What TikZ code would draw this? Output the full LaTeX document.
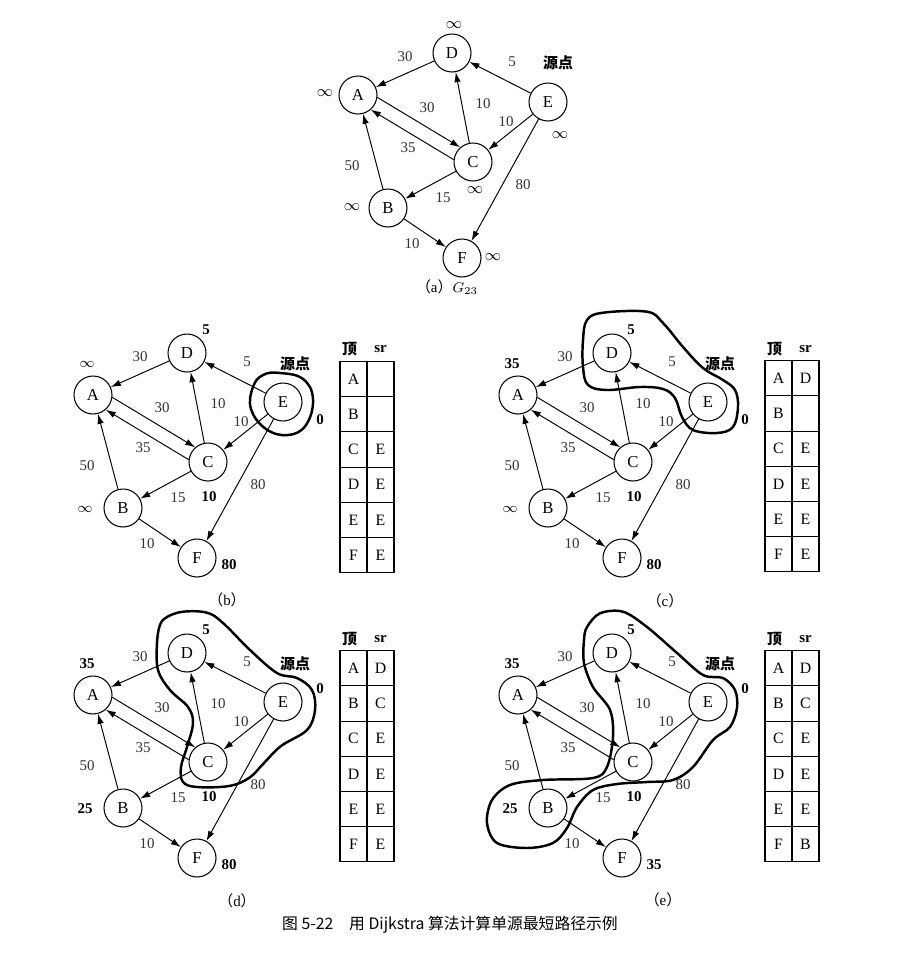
\documentclass[tikz,border=0pt]{standalone}
\usepackage{fontspec}
\setmainfont{Liberation Serif}
\newfontfamily\cjk{Noto Sans CJK SC}
\usetikzlibrary{arrows.meta}

\tikzset{
  vtx/.style={circle, draw, line width=0.6pt, minimum size=0.76cm, inner sep=0pt,
    font=\fontsize{9.5}{11}\selectfont},
  arr/.style={-{Latex[length=2mm,width=1.3mm]}, line width=0.55pt},
  wlab/.style={inner sep=1pt, text=black!80, font=\fontsize{8.5}{10}\selectfont},
  dlab/.style={inner sep=1pt, font=\fontsize{8.5}{10}\selectfont\bfseries},
  ilab/.style={inner sep=1pt, font=\fontsize{9}{10}\selectfont},
  src/.style={inner sep=1pt, font=\fontsize{8.5}{10}\selectfont\cjk\bfseries},
  setline/.style={line width=1.4pt, line join=round},
  tline/.style={line width=0.6pt},
  cell/.style={inner sep=0pt, font=\fontsize{9}{10}\selectfont},
  thead/.style={inner sep=0pt, font=\fontsize{8.5}{10}\selectfont\bfseries},
  capt/.style={inner sep=1pt, font=\fontsize{8.5}{10}\selectfont},
  mcap/.style={inner sep=1pt, font=\fontsize{9}{11}\selectfont\cjk}
}

% the graph G23 with its weights
\newcommand\dijgraph{%
  \node[vtx] (D) at (452,53) {D};
  \node[vtx] (A) at (358,95) {A};
  \node[vtx] (E) at (548,102) {E};
  \node[vtx] (C) at (473,162) {C};
  \node[vtx] (B) at (388,208) {B};
  \node[vtx] (F) at (462,258) {F};
  \draw[arr] (D) -- (A);
  \draw[arr] (E) -- (D);
  \draw[arr] (A.-7) -- (C.131);
  \draw[arr] (C.173) -- (A.-49);
  \draw[arr] (C) -- (D);
  \draw[arr] (E) -- (C);
  \draw[arr] (E) -- (F);
  \draw[arr] (B) -- (A);
  \draw[arr] (C) -- (B);
  \draw[arr] (B) -- (F);
  \node[wlab] (wDA) at (405,57) {30};
  \node[wlab] (wED) at (512,62) {5};
  \node[wlab] (wAC) at (427,108) {30};
  \node[wlab] (wCD) at (483,104) {10};
  \node[wlab] (wEC) at (506,122) {10};
  \node[wlab] (wCA) at (408,148) {35};
  \node[wlab] (wBA) at (352,166) {50};
  \node[wlab] (wEF) at (523,185) {80};
  \node[wlab] (wCB) at (443,198) {15};
  \node[wlab] (wBF) at (412,244) {10};
}

% distances: D, A, E, C, B, F, y of the E label
\newcommand\dists[7]{%
  \node[dlab] (dD) at (471,30) {#1};
  \node[dlab] (dA) at (352,64) {#2};
  \node[dlab] (dE) at (585,#7) {#3};
  \node[dlab] (dC) at (474,197) {#4};
  \node[dlab] (dB) at (350,209) {#5};
  \node[dlab] (dF) at (494,265) {#6};
  \node[src] (src) at (560,64) {源点};
}

% table: top y, list vertex/sr
\newcommand\srtable[2]{%
  \node[thead] (h1) at (614.5,{#1-12}) {\cjk\bfseries 顶};
  \node[thead] (h2) at (645.5,{#1-12}) {sr};
  \draw[tline] (605,#1) rectangle (659,{#1+211});
  \draw[tline] (632,#1) -- (632,{#1+211});
  \foreach \k in {1,...,5}
    \draw[tline] (605,{#1+35.2*\k}) -- (659,{#1+35.2*\k});
  \foreach \v/\s [count=\i] in {#2} {
    \node[cell] (v\v) at (618.5,{#1+35.2*(\i-0.5)}) {\v};
    \node[cell] (s\v) at (645.5,{#1+35.2*(\i-0.5)}) {\s};
  }
}

\begin{document}
\begin{tikzpicture}[x=0.02cm, y=-0.02cm]
  \useasboundingbox (0,0) rectangle (901,970);

  % (a)
  \begin{scope}[name prefix=a-]
    \dijgraph
    \node[ilab] (dD) at (454,25) {$\infty$};
    \node[ilab] (dA) at (325,93) {$\infty$};
    \node[ilab] (dE) at (560,135) {$\infty$};
    \node[ilab] (dC) at (475,190) {$\infty$};
    \node[ilab] (dB) at (352,207) {$\infty$};
    \node[ilab] (dF) at (493,257) {$\infty$};
    \node[src] (src) at (558,63) {源点};
    \node[capt] (cap) at (447,287) {{\cjk （}a{\cjk ）}$G_{23}$};
  \end{scope}

  % (b)
  \begin{scope}[shift={(-265,300)}, name prefix=b-]
    \dijgraph
    \dists{5}{$\infty$}{0}{10}{$\infty$}{80}{120}
    \draw[setline] plot[smooth cycle, tension=0.7] coordinates {
      (545,73) (568,79) (578,99) (571,125) (553,135) (531,129) (516,109) (518,87) (528,75)};
    \srtable{61.5}{A/{},B/{},C/E,D/E,E/E,F/E}
  \end{scope}
  \node[capt] (capb) at (227,600) {{\cjk （}b{\cjk ）}};

  % (c)
  \begin{scope}[shift={(160,300)}, name prefix=c-]
    \dijgraph
    \dists{5}{35}{0}{10}{$\infty$}{80}{120}
    \draw[setline] plot[smooth cycle, tension=0.6] coordinates {
      (427,20) (443,12.7) (487,11.7) (503,23) (523,47) (543,68) (563,80) (575,90)
      (578,107) (573,127) (557,133) (533,130) (522,117) (515,98) (503,89) (480,87)
      (447,90) (428,85) (423,67) (423,40)};
    \srtable{60.7}{A/D,B/{},C/E,D/E,E/E,F/E}
  \end{scope}
  \node[capt] (capc) at (665,601) {{\cjk （}c{\cjk ）}};

  % (d)
  \begin{scope}[shift={(-265,600)}, name prefix=d-]
    \dijgraph
    \dists{5}{35}{0}{10}{25}{80}{89}
    \draw[setline] plot[smooth cycle, tension=0.6] coordinates {
      (432,17) (448,11.7) (472,12.7) (488,23) (515,50) (542,73) (562,78) (577,90)
      (580,110) (572,130) (546,146) (529,163) (514,178) (494,186) (462,187) (448,182)
      (446,167) (452,147) (458,123) (453,107) (435,90) (423,70) (422,43) (425,25)};
    \srtable{50.7}{A/D,B/C,C/E,D/E,E/E,F/E}
  \end{scope}
  \node[capt] (capd) at (237,901) {{\cjk （}d{\cjk ）}};

  % (e)
  \begin{scope}[shift={(160,600)}, name prefix=e-]
    \dijgraph
    \dists{5}{35}{0}{10}{25}{35}{89}
    \draw[setline] plot[smooth cycle, tension=0.55] coordinates {
      (427,27) (440,13.3) (463,11.7) (487,27) (517,53) (543,75) (563,78) (575,90)
      (577,108) (570,127) (553,140) (533,167) (513,180) (487,182) (457,184) (433,190)
      (417,207) (407,228) (393,243) (367,248) (337,243) (327,223) (332,200) (350,185)
      (383,180) (433,178) (447,167) (453,137) (450,110) (433,87) (424,63) (424,40)};
    \srtable{50.7}{A/D,B/C,C/E,D/E,E/E,F/B}
  \end{scope}
  \node[capt] (cape) at (663,900) {{\cjk （}e{\cjk ）}};

  \node[mcap] (cap) at (450,925) {图 5-22\quad 用 Dijkstra 算法计算单源最短路径示例};
\end{tikzpicture}
\end{document}
